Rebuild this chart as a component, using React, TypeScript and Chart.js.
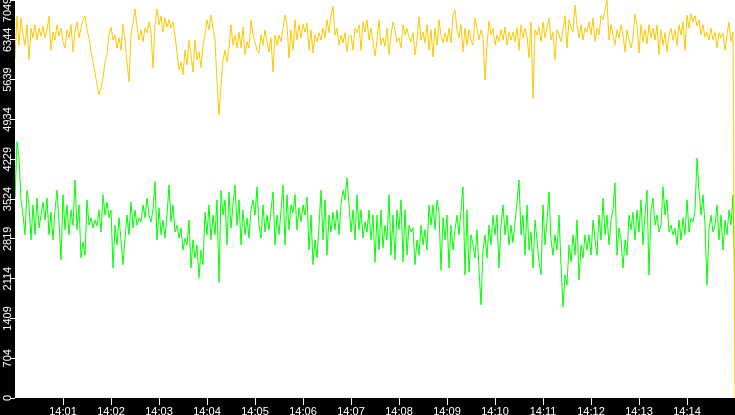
import { useEffect, useRef } from "react";
import { Chart, registerables } from "chart.js";

Chart.register(...registerables);

// one reading every 2.5 s from 14:00:00 to 14:15:00
const SAMPLE_SECONDS = 2.5;
const WINDOW_SECONDS = 900;
const Y_MAX = 7049;
const Y_STEP = 704.9;

const minuteLabels = [
  "14:01", "14:02", "14:03", "14:04", "14:05", "14:06", "14:07",
  "14:08", "14:09", "14:10", "14:11", "14:12", "14:13", "14:14",
];

const upperSeries = [
  6020, 6770, 6250, 6730, 6430, 6250, 6610, 5990, 6550, 6380,
  6610, 6340, 6550, 6410, 6590, 6380, 6520, 6770, 6160, 6480,
  6340, 6610, 6410, 6550, 6310, 6200, 6520, 6380, 6610, 6130,
  6480, 6660, 6380, 6550, 6700, 6770, 6520, 6380, 6130, 5950,
  5770, 5540, 5370, 5490, 5670, 5950, 6080, 6430, 6570, 6340,
  6430, 6200, 6380, 6160, 6620, 6340, 5950, 5600, 6430, 6640,
  6890, 6590, 6340, 6520, 6310, 6550, 6470, 6660, 6480, 5850,
  6610, 6890, 6610, 6770, 6480, 6730, 6570, 6700, 6550, 6660,
  6410, 6130, 5810, 5950, 5720, 6160, 5900, 6340, 6080, 5770,
  6340, 5990, 6130, 5850, 6250, 6450, 6700, 6520, 6780, 6550,
  6340, 5600, 5010, 5540, 5990, 6160, 5950, 6200, 6610, 6250,
  6430, 6200, 6480, 6200, 6570, 6080, 6310, 6200, 6700, 6430,
  6310, 6160, 6110, 6430, 6250, 6520, 6310, 6130, 6380, 5770,
  6430, 6250, 6430, 6310, 6550, 6780, 6610, 6020, 6520, 6160,
  6700, 6340, 6610, 6380, 6620, 6480, 6640, 6160, 6520, 6110,
  6430, 6310, 6470, 6340, 6550, 6380, 6700, 6470, 6780, 6940,
  6430, 6550, 6250, 6430, 6290, 6470, 6130, 6410, 6430, 6160,
  6550, 6470, 6610, 6160, 6660, 6480, 6700, 6340, 6550, 6310,
  6060, 6340, 6700, 6250, 6380, 6230, 6550, 6080, 6430, 6660,
  6520, 6310, 6380, 6200, 6610, 6430, 6550, 6380, 6310, 6470,
  6080, 6340, 6750, 6340, 6480, 6290, 6610, 6160, 6520, 6040,
  6550, 6250, 6700, 6430, 6290, 6470, 6310, 6550, 6290, 6780,
  6870, 6520, 6380, 6610, 6130, 6550, 6250, 6520, 6340, 6250,
  6730, 6550, 6340, 6520, 6380, 5630, 6250, 6680, 6430, 6550,
  6250, 6430, 6310, 6520, 6340, 6570, 6250, 6480, 6340, 6480,
  6310, 6550, 6160, 6610, 6380, 6550, 6410, 6020, 6660, 5310,
  6520, 6430, 6570, 6310, 6660, 6380, 6550, 6730, 6340, 6480,
  5980, 6520, 6430, 6310, 6520, 6770, 6200, 6700, 6570, 6480,
  6960, 6610, 6380, 6610, 6340, 6550, 6480, 6660, 6430, 6730,
  6310, 6550, 6430, 6770, 6700, 6870, 7040, 6340, 6610, 6430,
  6250, 6520, 6380, 6610, 6430, 6130, 6520, 6340, 6200, 6380,
  6800, 6610, 6110, 6610, 6310, 6520, 6270, 6610, 6380, 6550,
  6340, 6610, 6080, 6520, 6250, 6470, 6130, 6410, 6550, 6340,
  6520, 6250, 6610, 6430, 6660, 6160, 6780, 6550, 6800, 6660,
  6770, 6590, 6700, 6430, 6610, 6390, 6480, 6340, 6550, 6340,
  6480, 6200, 6470, 6380, 6470, 6160, 6430, 6660, 6310, 6480,
  0,
];

const lowerSeries = [
  3540, 4540, 4250, 3510, 3240, 2890, 3680, 3420, 2800, 3420,
  2890, 3540, 3010, 3240, 3470, 3150, 3540, 2890, 3290, 2800,
  3330, 3680, 3120, 2450, 3600, 2980, 3420, 2890, 3330, 3060,
  3860, 2980, 3420, 2480, 2760, 2530, 3510, 3060, 3190, 3010,
  3150, 3050, 3330, 2940, 3600, 3240, 3470, 3190, 3330, 2300,
  3060, 2710, 3190, 2800, 2360, 2830, 3240, 2890, 3470, 3010,
  3330, 3060, 3190, 3120, 3420, 3190, 3540, 3240, 3120, 3330,
  3830, 2800, 3370, 2890, 3150, 2830, 3240, 3770, 3120, 3420,
  2940, 3060, 2830, 3010, 2620, 2830, 2710, 3150, 2300, 2800,
  2480, 2710, 2130, 2620, 2360, 3290, 2890, 3420, 2800, 3240,
  2890, 3510, 2050, 3680, 3240, 3510, 2710, 3650, 3010, 3420,
  3770, 3060, 3510, 2710, 3330, 2890, 3190, 2830, 3330, 3510,
  3240, 3740, 3060, 2830, 3420, 2940, 3240, 2980, 3330, 3650,
  2710, 3240, 2890, 3330, 3770, 2710, 3600, 2980, 3420, 3280,
  3600, 2980, 3370, 3120, 3420, 3240, 3560, 2620, 3240, 2360,
  2800, 2480, 3060, 3680, 2800, 3510, 2530, 3240, 2940, 3290,
  2980, 3330, 2890, 3420, 3680, 3510, 3900, 3420, 2940, 3330,
  2800, 3600, 2980, 3330, 2830, 3120, 2940, 3330, 2800, 3240,
  2410, 3240, 2620, 3330, 2660, 3060, 2800, 3600, 2530, 3240,
  2450, 3330, 2980, 3510, 2410, 3330, 2530, 3060, 2940, 3010,
  2360, 2800, 2530, 3060, 2710, 2980, 2620, 3420, 3060, 3420,
  2980, 3510, 3290, 2270, 3190, 2800, 3240, 2300, 3060, 2620,
  2980, 3240, 2890, 3330, 3740, 2180, 3330, 2230, 2890, 2710,
  2480, 2980, 2270, 1650, 2620, 2890, 2480, 3060, 2710, 3240,
  2890, 3240, 2300, 3060, 3420, 2890, 3240, 2710, 3060, 2750,
  3120, 3470, 3860, 2890, 3240, 2530, 3420, 2620, 2940, 2300,
  3150, 2800, 2410, 2180, 3420, 2710, 3150, 3650, 2800, 2530,
  2890, 2620, 3240, 2360, 1610, 2180, 2000, 2710, 2410, 2890,
  2530, 3150, 2090, 2710, 2480, 2890, 2620, 2890, 2530, 3150,
  2800, 2530, 3240, 2800, 3540, 2890, 3240, 2710, 3150, 3330,
  3810, 2530, 3010, 2800, 2300, 2800, 2530, 3240, 2980, 3290,
  2800, 3330, 2940, 3510, 2710, 3240, 3680, 2180, 3330, 3540,
  3060, 3240, 2940, 3060, 3740, 3240, 3510, 2940, 3060, 2890,
  3010, 2710, 3150, 2800, 3190, 2890, 3510, 2940, 3190, 3120,
  3330, 4250, 3680, 3240, 3600, 3060, 2000, 2980, 3240, 2940,
  3060, 3420, 2800, 3240, 2620, 3150, 2890, 3330, 3060, 3600,
  1770,
];

const toPoints = (values: number[]) =>
  values.map((v, i) => ({ x: i * SAMPLE_SECONDS, y: v }));

// black frame, white plot area, rotated y labels
const framePlugin = {
  id: "frame",
  beforeDraw(chart: Chart) {
    const { ctx, chartArea, width, height } = chart;
    ctx.save();
    ctx.fillStyle = "#000";
    ctx.fillRect(0, 0, width, height);
    ctx.fillStyle = "#fff";
    ctx.fillRect(
      chartArea.left,
      chartArea.top,
      chartArea.right - chartArea.left,
      chartArea.bottom - chartArea.top
    );
    ctx.restore();
  },
  afterDraw(chart: Chart) {
    const { ctx } = chart;
    const scale = chart.scales.y;
    ctx.save();
    ctx.fillStyle = "#fff";
    ctx.font = '11px "Liberation Sans"';
    ctx.textAlign = "center";
    ctx.textBaseline = "alphabetic";
    for (const tick of scale.ticks) {
      const label = String(Math.floor(tick.value + 1e-6));
      const py = Math.max(scale.getPixelForValue(tick.value), 10);
      ctx.setTransform(1, 0, 0, 1, 0, 0);
      ctx.translate(10.5, py);
      ctx.rotate(-Math.PI / 2);
      ctx.fillText(label, 0, 0);
    }
    ctx.restore();
  },
};

export default function App() {
  const chartRef = useRef<HTMLCanvasElement>(null);
  const chartInstance = useRef<Chart | null>(null);

  useEffect(() => {
    document.body.style.margin = "0";
    if (!chartRef.current) return;

    if (chartInstance.current) {
      chartInstance.current.destroy();
    }

    chartInstance.current = new Chart(chartRef.current, {
      type: "line",
      data: {
        datasets: [
          {
            label: "upper",
            data: toPoints(upperSeries),
            borderColor: "#ffc800",
            borderWidth: 1,
            pointRadius: 0,
            tension: 0,
          },
          {
            label: "lower",
            data: toPoints(lowerSeries),
            borderColor: "#00ff00",
            borderWidth: 1,
            pointRadius: 0,
            tension: 0,
          },
        ],
      },
      options: {
        responsive: false,
        animation: false,
        devicePixelRatio: 1,
        layout: { padding: 0 },
        plugins: {
          legend: { display: false },
          tooltip: { enabled: false },
        },
        scales: {
          x: {
            type: "linear",
            min: 0,
            max: WINDOW_SECONDS,
            afterBuildTicks: (scale: any) => {
              scale.ticks = minuteLabels.map((_, i) => ({ value: (i + 1) * 60 }));
            },
            afterFit: (scale: any) => {
              scale.height = 17;
            },
            border: { display: false },
            grid: {
              drawOnChartArea: false,
              drawTicks: true,
              tickLength: 7,
              tickColor: "#fff",
              tickWidth: 1,
            },
            ticks: {
              color: "#fff",
              font: { family: "Liberation Sans", size: 11 },
              padding: 0,
              maxRotation: 0,
              autoSkip: false,
              callback: (_value: any, index: number) => minuteLabels[index],
            },
          },
          y: {
            min: 0,
            max: Y_MAX,
            afterBuildTicks: (scale: any) => {
              scale.ticks = Array.from({ length: 11 }, (_, i) => ({
                value: i * Y_STEP,
              }));
            },
            afterFit: (scale: any) => {
              scale.width = 15;
            },
            border: { display: false },
            grid: {
              drawOnChartArea: false,
              drawTicks: true,
              tickLength: 5,
              tickColor: "#fff",
              tickWidth: 1,
            },
            ticks: { display: false },
          },
        },
      },
      plugins: [framePlugin],
    });

    return () => {
      if (chartInstance.current) {
        chartInstance.current.destroy();
        chartInstance.current = null;
      }
    };
  }, []);

  return (
    <canvas
      ref={chartRef}
      width={735}
      height={415}
      style={{ display: "block", width: 735, height: 415 }}
    />
  );
}
